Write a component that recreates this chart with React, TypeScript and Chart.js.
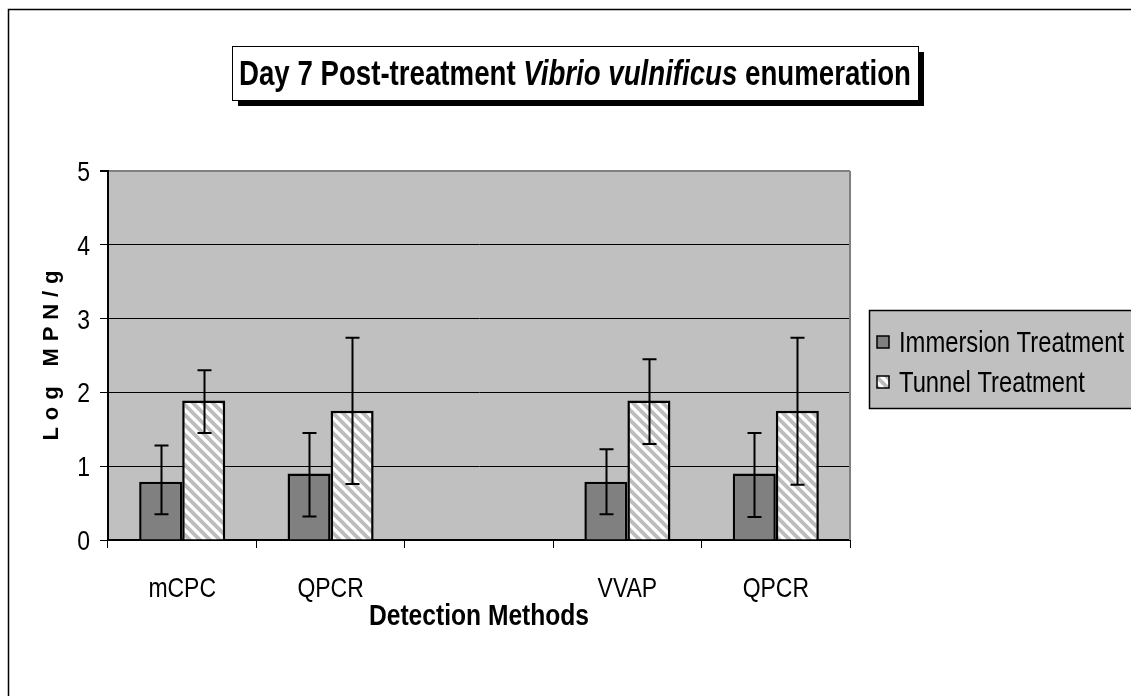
import React, { useEffect, useRef } from "react";
import { Chart, registerables } from "chart.js";

Chart.register(...registerables);

const categories = ["mCPC", "QPCR", "", "VVAP", "QPCR"];
const immersion = [0.79, 0.9, null, 0.79, 0.9];
const tunnel = [1.89, 1.75, null, 1.89, 1.75];
const immersionLow = [0.35, 0.32, null, 0.35, 0.31];
const immersionHigh = [1.28, 1.45, null, 1.23, 1.45];
const tunnelLow = [1.45, 0.76, null, 1.3, 0.75];
const tunnelHigh = [2.3, 2.74, null, 2.45, 2.74];
const seriesNames = ["Immersion Treatment", "Tunnel Treatment"];
const titleParts: [string, boolean][] = [
  ["Day 7 Post-treatment ", false],
  ["Vibrio vulnificus", true],
  [" enumeration", false],
];
const yTitle = "Log MPN/g";
const xTitle = "Detection Methods";

const SANS = '"Liberation Sans", Arial, sans-serif';
const NARROW_X = 0.82;

function narrowText(
  c: CanvasRenderingContext2D,
  text: string,
  x: number,
  y: number,
  size: number,
  opts: { bold?: boolean; italic?: boolean; align?: "left" | "right" | "center"; baseline?: CanvasTextBaseline; sx?: number } = {}
) {
  const sx = opts.sx ?? NARROW_X;
  c.save();
  c.font = `${opts.italic ? "italic " : ""}${opts.bold ? "bold " : ""}${size}px ${SANS}`;
  c.textBaseline = opts.baseline ?? "alphabetic";
  c.textAlign = opts.align ?? "left";
  c.fillStyle = "#000";
  c.translate(x, y);
  c.scale(sx, 1);
  c.fillText(text, 0, 0);
  c.restore();
}

function makeStripes(ctx: CanvasRenderingContext2D): CanvasPattern {
  const c = document.createElement("canvas");
  c.width = 10;
  c.height = 10;
  const g = c.getContext("2d")!;
  g.fillStyle = "#ffffff";
  g.fillRect(0, 0, 10, 10);
  g.strokeStyle = "#bdbdbd";
  g.lineWidth = 3.8;
  g.beginPath();
  g.moveTo(-5, -5);
  g.lineTo(15, 15);
  g.moveTo(-5, 5);
  g.lineTo(5, 15);
  g.moveTo(5, -5);
  g.lineTo(15, 5);
  g.stroke();
  return ctx.createPattern(c, "repeat")!;
}

export default function App() {
  const ref = useRef<HTMLCanvasElement>(null);

  useEffect(() => {
    const canvas = ref.current!;
    const ctx = canvas.getContext("2d")!;
    const stripes = makeStripes(ctx);
    const errLow = [immersionLow, tunnelLow];
    const errHigh = [immersionHigh, tunnelHigh];

    const decor = {
      id: "decor",
      beforeDraw(chart: any) {
        const c = chart.ctx;
        const a = chart.chartArea;
        c.save();
        c.fillStyle = "#ffffff";
        c.fillRect(0, 0, chart.width, chart.height);
        c.strokeStyle = "#000";
        c.lineWidth = 1.5;
        c.strokeRect(8.5, 9.5, 1400, 1000);
        c.fillStyle = "#c0c0c0";
        c.fillRect(a.left, a.top, a.right - a.left, a.bottom - a.top);
        c.restore();
      },
      afterDatasetsDraw(chart: any) {
        const c = chart.ctx;
        const y = chart.scales.y;
        c.save();
        c.strokeStyle = "#000";
        c.lineWidth = 2;
        for (let d = 0; d < 2; d++) {
          const meta = chart.getDatasetMeta(d);
          meta.data.forEach((el: any, i: number) => {
            const lo = errLow[d][i];
            const hi = errHigh[d][i];
            if (lo == null || hi == null) return;
            const x = Math.round(el.x) + 0.5;
            const yl = y.getPixelForValue(lo);
            const yh = y.getPixelForValue(hi);
            c.beginPath();
            c.moveTo(x, yl);
            c.lineTo(x, yh);
            c.moveTo(x - 7, yl);
            c.lineTo(x + 7, yl);
            c.moveTo(x - 7, yh);
            c.lineTo(x + 7, yh);
            c.stroke();
          });
        }
        c.restore();
      },
      afterDraw(chart: any) {
        const c = chart.ctx;
        const a = chart.chartArea;
        const xs = chart.scales.x;
        const ys = chart.scales.y;
        c.save();
        c.strokeStyle = "#808080";
        c.lineWidth = 2;
        c.beginPath();
        c.moveTo(a.right, a.top);
        c.lineTo(a.right, a.bottom);
        c.stroke();
        c.restore();

        xs.ticks.forEach((t: any, i: number) => {
          const lbl = String(chart.data.labels[i] ?? "");
          if (!lbl) return;
          narrowText(c, lbl, xs.getPixelForTick(i), xs.top + 57, 28, { align: "center" });
        });
        ys.ticks.forEach((t: any) => {
          narrowText(c, String(t.label), ys.right - 18, ys.getPixelForValue(t.value) + 10, 28, { align: "right" });
        });

        narrowText(c, xTitle, (a.left + a.right) / 2, 625, 30, { align: "center", bold: true });

        c.save();
        const bx = 232, by = 46, bw = 686, bh = 54;
        c.fillStyle = "#000";
        c.fillRect(bx + 6, by + 6, bw, bh);
        c.fillStyle = "#fff";
        c.fillRect(bx, by, bw, bh);
        c.strokeStyle = "#000";
        c.lineWidth = 1;
        c.strokeRect(bx + 0.5, by + 0.5, bw, bh);
        const tsize = 35;
        const fontOf = (it: boolean) => `${it ? "italic " : ""}bold ${tsize}px ${SANS}`;
        let total = 0;
        titleParts.forEach(([t, it]) => {
          c.font = fontOf(it);
          total += c.measureText(t).width;
        });
        const targetW = 672;
        const sx = targetW / total;
        c.textBaseline = "alphabetic";
        c.textAlign = "left";
        c.fillStyle = "#000";
        c.translate(bx + bw / 2 - targetW / 2, by + bh / 2 + 12);
        c.scale(sx, 1);
        let cx = 0;
        titleParts.forEach(([t, it]) => {
          c.font = fontOf(it);
          c.fillText(t, cx, 0);
          cx += c.measureText(t).width;
        });
        c.restore();

        c.save();
        c.font = `bold 22px ${SANS}`;
        (c as any).letterSpacing = "0px";
        const w0 = c.measureText(yTitle).width;
        const sp = Math.max(0, (170 - w0) / (yTitle.length - 1));
        (c as any).letterSpacing = `${sp}px`;
        c.translate(52, (a.top + a.bottom) / 2);
        c.rotate(-Math.PI / 2);
        c.textAlign = "left";
        c.textBaseline = "middle";
        c.fillStyle = "#000";
        c.fillText(yTitle, -85, 0);
        c.restore();

        c.save();
        const lx = 869, ly = 310, lw = 300, lh = 98;
        c.fillStyle = "#c0c0c0";
        c.fillRect(lx, ly, lw, lh);
        c.strokeStyle = "#000";
        c.lineWidth = 1.5;
        c.strokeRect(lx + 0.5, ly + 0.5, lw, lh);
        const rows = [342, 382];
        const fills = ["#808080", stripes];
        seriesNames.forEach((name, i) => {
          c.fillStyle = fills[i] as any;
          c.fillRect(877, rows[i] - 6, 12, 12);
          c.strokeStyle = "#000";
          c.lineWidth = 1.5;
          c.strokeRect(877, rows[i] - 6, 12, 12);
          narrowText(c, name, 899, rows[i] + 10, 29);
        });
        c.restore();
      },
    };

    const chart = new Chart(ctx, {
      type: "bar",
      data: {
        labels: categories,
        datasets: [
          {
            label: seriesNames[0],
            data: immersion as any,
            backgroundColor: "#808080",
            borderColor: "#000",
            borderWidth: 2.5,
          },
          {
            label: seriesNames[1],
            data: tunnel as any,
            backgroundColor: stripes as any,
            borderColor: "#000",
            borderWidth: 2.5,
          },
        ],
      },
      options: {
        responsive: false,
        animation: false,
        layout: { padding: { left: 0, right: 281, top: 171, bottom: 0 } },
        datasets: { bar: { categoryPercentage: 0.58, barPercentage: 1 } },
        plugins: { legend: { display: false }, title: { display: false }, tooltip: { enabled: false } },
        scales: {
          x: {
            offset: true,
            grid: { offset: true, drawOnChartArea: false, drawTicks: true, tickLength: 8, color: "#000", lineWidth: 1 },
            border: { display: true, color: "#000", width: 2 },
            ticks: { display: false, autoSkip: false },
            afterFit: (s: any) => {
              s.height = 156;
            },
          },
          y: {
            min: 0,
            max: 5,
            ticks: { display: false, stepSize: 1 },
            grid: {
              color: (c: any) => (c.tick && c.tick.value === 5 ? "#808080" : "#000"),
              lineWidth: (c: any) => (c.tick && c.tick.value === 5 ? 2 : 1),
              tickColor: "#000",
              tickLength: 8,
              drawTicks: true,
            },
            border: { display: true, color: "#000", width: 2 },
            afterFit: (s: any) => {
              s.width = 108;
            },
          },
        },
      },
      plugins: [decor],
    } as any);

    return () => chart.destroy();
  }, []);

  return (
    <div style={{ position: "fixed", left: 0, top: 0, width: 1131, height: 696 }}>
      <canvas ref={ref} width={1131} height={696} style={{ display: "block" }} />
    </div>
  );
}
